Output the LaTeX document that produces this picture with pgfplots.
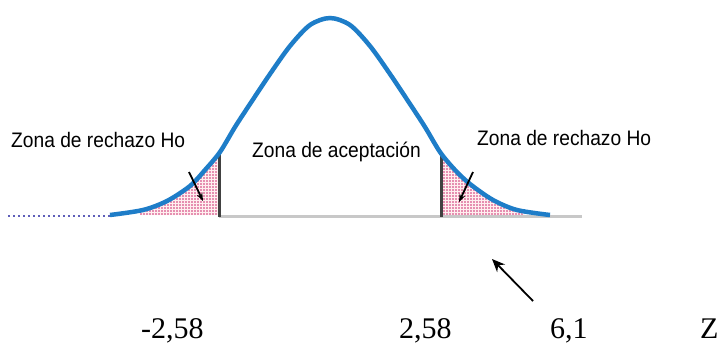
\documentclass[border=0pt]{standalone}
\usepackage{fontspec}
\setmainfont{Liberation Serif}
\newfontfamily\arial{Liberation Sans}
\usepackage{pgfplots}
\pgfplotsset{compat=1.18}
\usetikzlibrary{arrows.meta,patterns}
\definecolor{curveblue}{RGB}{30,125,200}
\definecolor{dotpink}{RGB}{205,45,115}
\definecolor{basegray}{RGB}{200,200,200}
\definecolor{dotblue}{RGB}{95,95,185}
\definecolor{critgray}{RGB}{65,65,65}
\pgfdeclarepatternformonly{bigdots}{\pgfqpoint{-1.5pt}{-1.5pt}}{\pgfqpoint{1.5pt}{1.5pt}}{\pgfqpoint{3pt}{3pt}}{%
  \pgfpathcircle{\pgfqpoint{0pt}{0pt}}{0.8pt}\pgfusepath{fill}}
\begin{document}
\begin{tikzpicture}[
  lbl/.style={anchor=base west, inner sep=0pt, xscale=0.96, yscale=1.05, font=\arial\fontsize{20}{24}\selectfont},
  num/.style={anchor=base west, inner sep=0pt, font=\fontsize{30}{34}\selectfont}]
\begin{axis}[scale only axis, width=723pt, height=346pt,
  xmin=0, xmax=723, ymin=0, ymax=346, y dir=reverse,
  axis line style={draw=none}, ticks=none, clip=false]

% shaded rejection tails (pixel coordinates)
\addplot[draw=none, fill=pink!25] coordinates {(140,210)(150,208)(167,201)(190,186)(205,170)(219,152)(219,215)(140,215)};
\addplot[draw=none, pattern=bigdots, pattern color=dotpink] coordinates {(140,210)(150,208)(167,201)(190,186)(205,170)(219,152)(219,215)(140,215)};
\addplot[draw=none, fill=pink!25] coordinates {(441,152)(455,170)(470,184)(493,200)(517,210)(525,215)(441,215)};
\addplot[draw=none, pattern=bigdots, pattern color=dotpink] coordinates {(441,152)(455,170)(470,184)(493,200)(517,210)(525,215)(441,215)};

% baseline and left dotted extension
\addplot[basegray, line width=3pt] coordinates {(219,216)(582,216)};
\addplot[dotblue, line width=2.5pt, dash pattern=on 2pt off 3pt] coordinates {(8,216)(112,216)};

% critical value lines
\addplot[critgray, line width=3pt] coordinates {(219,152)(219,217)};
\addplot[critgray, line width=3pt] coordinates {(441,152)(441,217)};

% bell curve
\addplot[curveblue, line width=4.5pt, smooth] coordinates {
(110,215)(143,210)(167,201)(190,186)(205,170)(220,152)(235,127)(250,104)
(270,74)(290,46)(310,25)(330,18)(350,25)(370,46)(390,74)(410,104)(425,127)
(440,152)(455,170)(470,184)(493,200)(517,210)(550,215)};

% arrows
\addplot[black, line width=1.8pt, -{Stealth[length=8pt,width=6pt]}] coordinates {(189,172)(203,201)};
\addplot[black, line width=1.8pt, -{Stealth[length=8pt,width=6pt]}] coordinates {(473,172)(459,202)};
\addplot[black, line width=1.8pt, -{Stealth[length=13pt,width=11pt]}] coordinates {(533,301)(492,259)};

% labels
\node[lbl] at (axis cs:11,147) {Zona de rechazo Ho};
\node[lbl] at (axis cs:252,157) {Zona de aceptación};
\node[lbl] at (axis cs:477,145) {Zona de rechazo Ho};

\node[num] at (axis cs:141,338) {-2,58};
\node[num] at (axis cs:399,338) {2,58};
\node[num] at (axis cs:550,338) {6,1};
\node[num] at (axis cs:700,338) {Z};
\end{axis}
\end{tikzpicture}
\end{document}
